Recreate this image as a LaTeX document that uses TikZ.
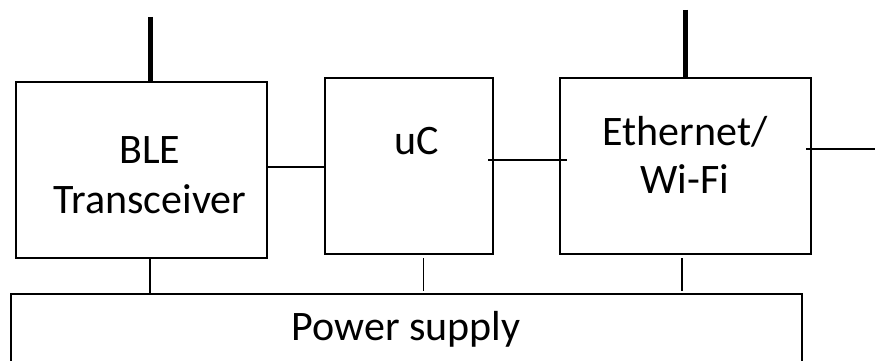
\documentclass[tikz,border=0pt]{standalone}
\usepackage{fontspec}
\setmainfont{Carlito}
\begin{document}
\begin{tikzpicture}[x=1pt,y=-1pt,
  box/.style={draw,inner sep=0pt,outer sep=0pt},
  lbl/.style={anchor=base,inner sep=0pt,font=\fontsize{42}{50}\selectfont},
  ant/.style={line width=5pt},
  wire/.style={line width=1.3pt}]
\useasboundingbox (0,0) rectangle (875,361);
% boxes
\node[box,line width=2pt,minimum width=251pt,minimum height=176pt] (ble) at (141.5,170) {};
\node[box,line width=1.5pt,minimum width=168pt,minimum height=176pt] (uc) at (409,166) {};
\node[box,line width=2pt,minimum width=251pt,minimum height=176pt] (eth) at (685.5,166) {};
% power supply (bottom edge outside the picture)
\coordinate (psl) at (11,361);
\coordinate (psr) at (802,361);
\draw[line width=1.2pt] (psl) -- (11,294) coordinate (pstl) -- (802,294) coordinate (pstr) -- (psr);
% texts
\node[lbl] (t1) at (150,163) {BLE};
\node[lbl] (t2) at (150,213) {Transceiver};
\node[lbl] (t3) at (417,154) {uC};
\node[lbl] (t4) at (685,145) {Ethernet/};
\node[lbl] (t5) at (685,193) {Wi-Fi};
\node[lbl] (t6) at (406,340) {Power supply};
% antennas
\coordinate (a1) at (150,17);
\coordinate (a2) at (685,10);
\draw[ant] (a1) -- (a1 |- ble.north);
\draw[ant] (a2) -- (a2 |- eth.north);
% links
\draw[line width=2.5pt] (ble.east |- 0,167) -- (uc.west |- 0,167);
\coordinate (l1) at (488,160);
\coordinate (l2) at (567,160);
\draw[wire] (l1) -- (l2);
\coordinate (l3) at (806,149);
\coordinate (l4) at (875,149);
\draw[wire] (l3) -- (l4);
% power connections
\coordinate (p1) at (150,294);
\coordinate (p2) at (423,291);
\coordinate (p3) at (682,291);
\draw[line width=2pt] (ble.south -| p1) -- (p1);
\draw[line width=1pt] (p2 |- 0,258) -- (p2);
\draw[line width=1.3pt] (p3 |- 0,258) -- (p3);
\end{tikzpicture}
\end{document}
